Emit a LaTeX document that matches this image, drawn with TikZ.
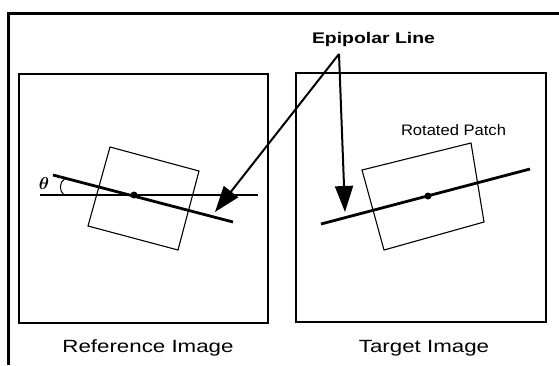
\documentclass[tikz,border=0pt]{standalone}
\usepackage{fontspec}
\setmainfont{Liberation Sans}
\usepackage{graphicx}
\usepackage{bm}
\usetikzlibrary{arrows.meta}
\begin{document}
\begin{tikzpicture}[x=1pt,y=-1pt,
  frame/.style={line width=3pt},
  imgbox/.style={line width=1.3pt},
  patch/.style={line width=1.1pt},
  epiline/.style={line width=2.8pt},
  pointer/.style={line width=2pt,-{Triangle[length=26pt,width=18pt]}},
  dotmark/.style={circle,fill=black,inner sep=0pt,minimum size=7pt},
  caption/.style={inner sep=0pt,text height=12.7pt,text depth=0pt,font=\fontsize{17.7}{20}\selectfont},
  lbl/.style={inner sep=0pt,text height=11pt,text depth=0pt}]
\useasboundingbox (0,0) rectangle (559,365);
\fill[white] (0,0) rectangle (559,365);
% outer frame (top and left only visible)
\draw[frame] (8,365) -- (8,13) -- (559,13);
% image boxes
\draw[imgbox] (19,74) rectangle (268,323);
\draw[imgbox] (296,73) rectangle (546,322);
% left patch
\draw[patch] (110,147) -- (199,171) -- (178,250) -- (88,226) -- cycle;
% right patch
\draw[patch] (362,170) -- (471,143) -- (484,222) -- (384,250) -- cycle;
% left lines
\draw[epiline] (40,195) -- (258,195);
\draw[epiline] (53,175) -- (233,222);
\node[dotmark] (d1) at (134,195) {};
% theta
\draw[line width=1pt] (65,178.5) .. controls (59,182) and (59,191) .. (64,195);
\node[inner sep=0pt,font=\fontsize{19}{22}\selectfont] (theta) at (44,183) {$\bm{\theta}$};
% right line
\draw[epiline] (321,224) -- (530,169);
\node[dotmark] (d2) at (428,196) {};
% labels
\node[lbl,font=\fontsize{15.4}{18}\selectfont\bfseries] (epi) at (373.5,37.5) {\scalebox{1.26}[1]{Epipolar Line}};
\node[lbl,font=\fontsize{15.2}{18}\selectfont] (rot) at (453.5,129.5) {\scalebox{1.09}[1]{Rotated Patch}};
\node[caption] (refcap) at (148,346.5) {\scalebox{1.26}[1]{Reference Image}};
\node[caption] (tgtcap) at (424,346.5) {\scalebox{1.26}[1]{Target Image}};
% pointers
\coordinate (apex) at (339,54);
\coordinate (tipL) at (215,212);
\coordinate (tipR) at (345,212);
\draw[pointer] (apex) -- (tipL);
\draw[pointer] (apex) -- (tipR);
\end{tikzpicture}
\end{document}
